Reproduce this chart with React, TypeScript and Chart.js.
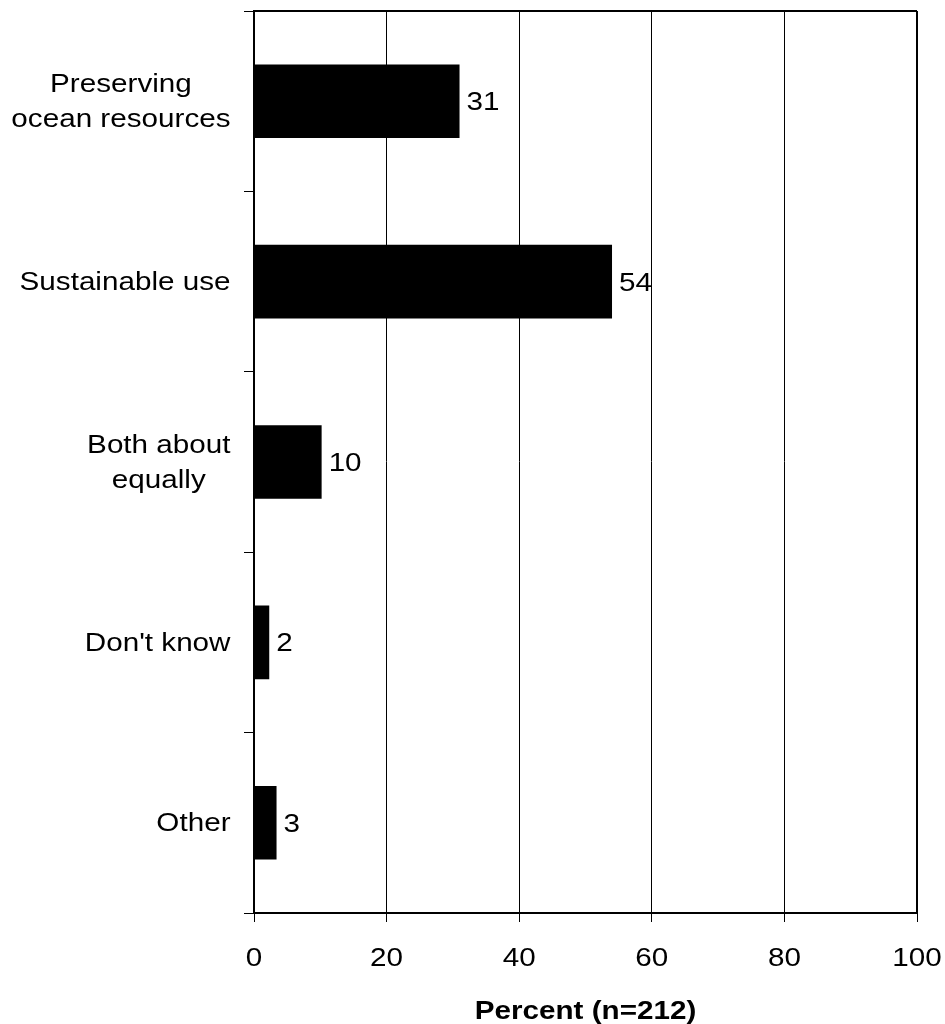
import React, { useEffect, useRef } from "react";
import { Chart, registerables } from "chart.js";

Chart.register(...registerables);

const categories: string[][] = [
  ["Preserving", "ocean resources"],
  ["Sustainable use"],
  ["Both about", "equally"],
  ["Don't know"],
  ["Other"],
];
const values: number[] = [31, 54, 10.2, 2.3, 3.4];
const valueLabels: string[] = ["31", "54", "10", "2", "3"];
const xTickValues: number[] = [0, 20, 40, 60, 80, 100];
const axisTitle = "Percent (n=212)";

const FONT_FAMILY = "'Liberation Sans', Arial, sans-serif";
const SX = 1.14;

function drawText(
  ctx: CanvasRenderingContext2D,
  text: string,
  x: number,
  y: number,
  align: CanvasTextAlign,
  font: string
) {
  ctx.save();
  ctx.font = font;
  ctx.fillStyle = "#000";
  ctx.textBaseline = "alphabetic";
  ctx.textAlign = align;
  ctx.translate(x, y);
  ctx.scale(SX, 1);
  ctx.fillText(text, 0, 0);
  ctx.restore();
}

const textPlugin = {
  id: "customText",
  afterDraw(chart: any) {
    const ctx: CanvasRenderingContext2D = chart.ctx;
    const area = chart.chartArea;
    const xScale = chart.scales.x;
    const yScale = chart.scales.y;
    const font = `26px ${FONT_FAMILY}`;

    // frame top and right
    ctx.save();
    ctx.strokeStyle = "#000";
    ctx.lineWidth = 2;
    ctx.beginPath();
    ctx.moveTo(area.left, area.top);
    ctx.lineTo(area.right, area.top);
    ctx.moveTo(area.right, area.top);
    ctx.lineTo(area.right, area.bottom);
    ctx.stroke();
    ctx.restore();

    // category labels
    const rightEdge = area.left - 23.5;
    const lineH = 34.5;
    categories.forEach((lines, i) => {
      const cy = yScale.getPixelForValue(i);
      ctx.save();
      ctx.font = font;
      const maxW = Math.max(...lines.map((l) => ctx.measureText(l).width)) * SX;
      ctx.restore();
      const cx = rightEdge - maxW / 2;
      const n = lines.length;
      lines.forEach((l, j) => {
        const by = cy + 8.5 + (j - (n - 1) / 2) * lineH;
        drawText(ctx, l, cx, by, "center", font);
      });
    });

    // value labels
    const meta = chart.getDatasetMeta(0);
    meta.data.forEach((bar: any, i: number) => {
      drawText(ctx, valueLabels[i], bar.x + 7, bar.y + 9, "left", font);
    });

    // x tick labels
    xTickValues.forEach((v) => {
      drawText(ctx, String(v), xScale.getPixelForValue(v), area.bottom + 53, "center", font);
    });

    // axis title
    drawText(
      ctx,
      axisTitle,
      (area.left + area.right) / 2,
      area.bottom + 106,
      "center",
      `bold 26px ${FONT_FAMILY}`
    );
  },
};

export default function App() {
  const canvasRef = useRef<HTMLCanvasElement | null>(null);

  useEffect(() => {
    if (!canvasRef.current) return;
    const chart = new Chart(canvasRef.current, {
      type: "bar",
      data: {
        labels: categories.map((c) => c.join(" ")),
        datasets: [
          {
            data: values,
            backgroundColor: "#000",
            borderWidth: 0,
            barPercentage: 0.408,
            categoryPercentage: 1,
          },
        ],
      },
      options: {
        indexAxis: "y",
        animation: false,
        responsive: true,
        maintainAspectRatio: false,
        layout: { padding: { top: 11, right: 28, left: 0, bottom: 0 } },
        plugins: {
          legend: { display: false },
          tooltip: { enabled: false },
        },
        scales: {
          x: {
            type: "linear",
            min: 0,
            max: 100,
            ticks: { stepSize: 20, display: false },
            grid: {
              color: "#000",
              lineWidth: 1,
              drawTicks: true,
              tickLength: 9,
              tickColor: "#000",
            },
            border: { display: true, color: "#000", width: 2 },
            afterFit: (scale: any) => {
              scale.height = 111;
            },
          },
          y: {
            type: "category",
            ticks: { display: false },
            grid: {
              offset: true,
              drawOnChartArea: false,
              drawTicks: true,
              tickLength: 10,
              tickColor: "#000",
              color: "#000",
            },
            border: { display: true, color: "#000", width: 2 },
            afterFit: (scale: any) => {
              scale.width = 254;
            },
          },
        },
      },
      plugins: [textPlugin],
    });
    return () => chart.destroy();
  }, []);

  return (
    <div style={{ position: "fixed", left: 0, top: 0, width: 945, height: 1024, background: "#fff" }}>
      <canvas ref={canvasRef} />
    </div>
  );
}
